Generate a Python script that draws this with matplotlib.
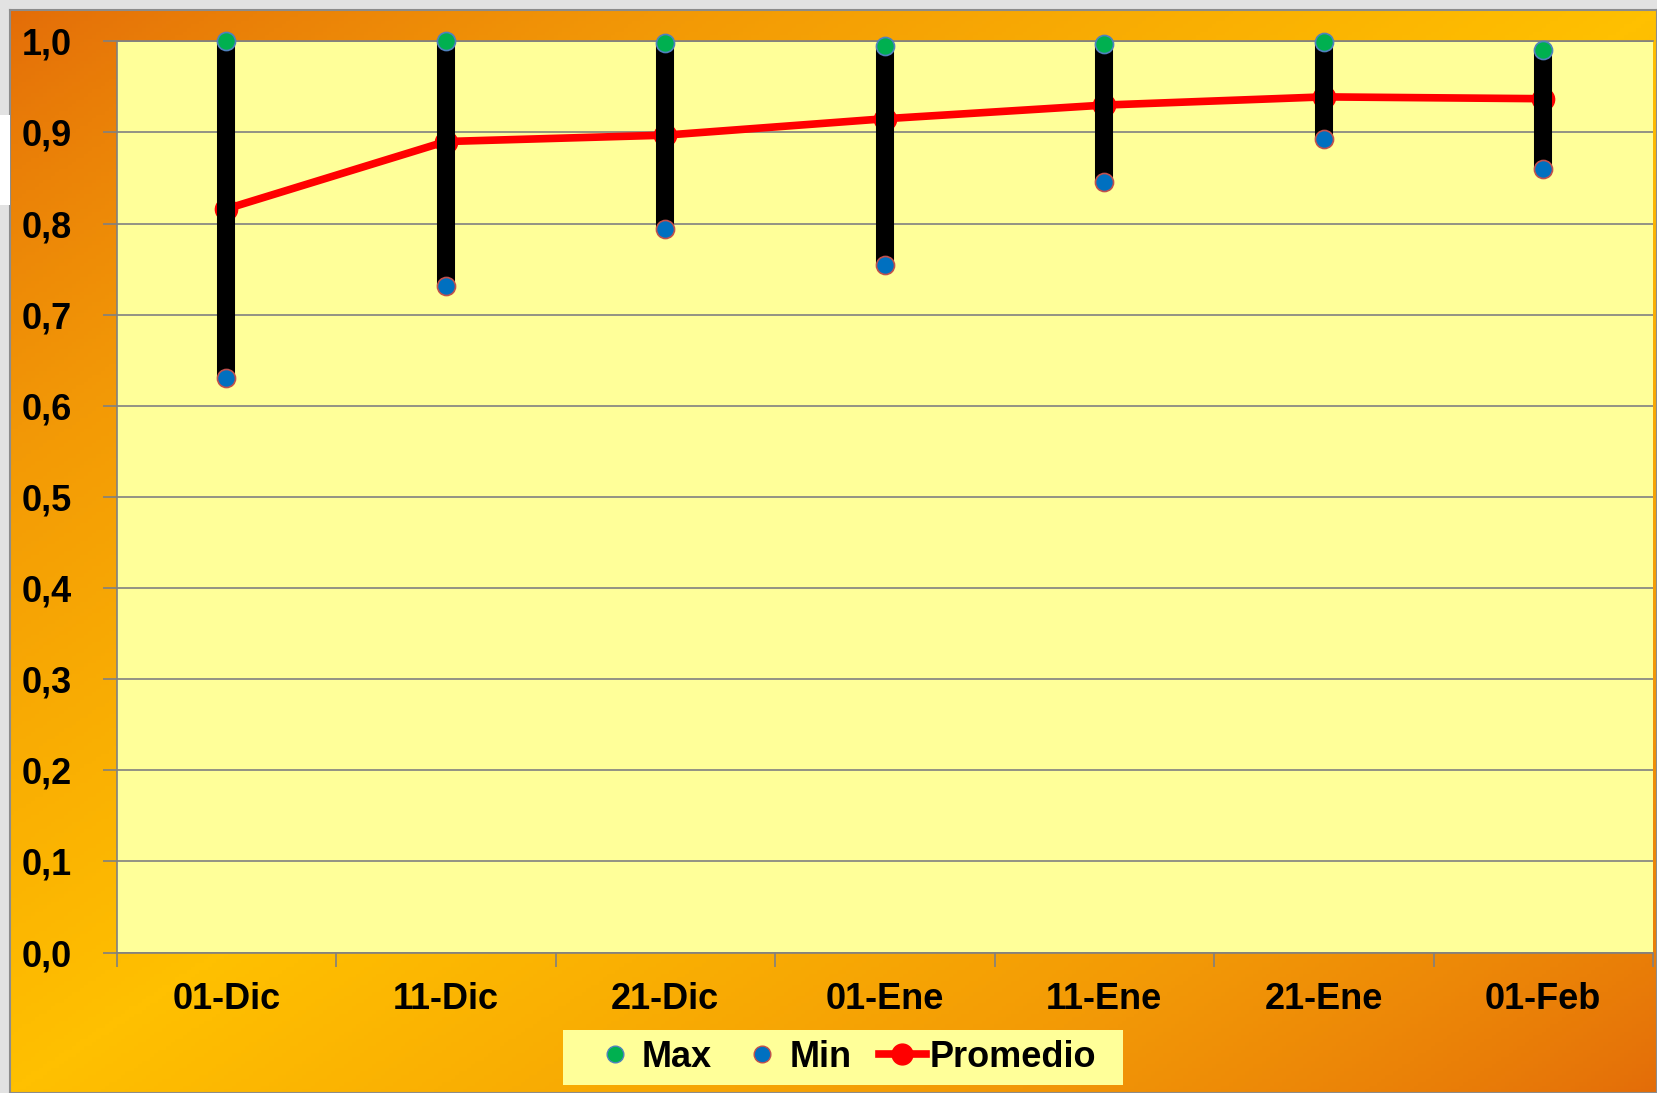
import numpy as np
import matplotlib
matplotlib.use("Agg")
import matplotlib.pyplot as plt
from matplotlib.colors import LinearSegmentedColormap
from matplotlib.lines import Line2D
from matplotlib.patches import Rectangle

# ---- data ----
fechas = ['01-Dic', '11-Dic', '21-Dic', '01-Ene', '11-Ene', '21-Ene', '01-Feb']
maximo = [1.000, 1.000, 0.998, 0.995, 0.997, 0.999, 0.990]
minimo = [0.630, 0.731, 0.794, 0.755, 0.846, 0.893, 0.860]
promedio = [0.816, 0.890, 0.897, 0.915, 0.930, 0.939, 0.937]
y_ticks = [0.0, 0.1, 0.2, 0.3, 0.4, 0.5, 0.6, 0.7, 0.8, 0.9, 1.0]
y_labels = ['0,0', '0,1', '0,2', '0,3', '0,4', '0,5', '0,6', '0,7', '0,8', '0,9', '1,0']

plt.rcParams['font.family'] = ['Liberation Sans', 'DejaVu Sans']
plt.rcParams['font.weight'] = 'bold'

W, H = 1657, 1093
fig = plt.figure(figsize=(W / 100, H / 100), dpi=100, facecolor='#E2E2E2')
# white strip showing on the left edge (behind the slide)
fig.patches.append(Rectangle((0, 1 - 205 / H), 10 / W, 90 / H, transform=fig.transFigure,
                             facecolor='white', edgecolor='none'))

# orange gradient background (dark corners top-left / bottom-right)
bg = fig.add_axes([10 / W, 0, 1 - 10 / W, 1 - 10 / H])
gx, gy = np.meshgrid(np.linspace(0, 1, 400), np.linspace(0, 1, 300))
t = 1 - np.abs((gx + gy) - 1)
cmap = LinearSegmentedColormap.from_list('naranja', ['#E36C09', '#F39A06', '#FFC000'])
bg.imshow(t ** 0.8, cmap=cmap, aspect='auto', extent=[0, 1, 0, 1], origin='upper')
bg.set_xticks([])
bg.set_yticks([])
for s in bg.spines.values():
    s.set_color('#8C8C8C')
    s.set_linewidth(1.5)

# legend background box
fig.patches.append(Rectangle((563 / W, 1 - 1085 / H), 560 / W, 55 / H, transform=fig.transFigure,
                             facecolor='#FFFF99', edgecolor='none', zorder=5))

# plot area
left, right, top, bottom = 116.5, 1653, 41.3, 952.5
ax = fig.add_axes([left / W, 1 - bottom / H, (right - left) / W, (bottom - top) / H])
ax.set_facecolor('#FFFF99')

x = np.arange(len(fechas))
ax.plot(x, promedio, color='#FF0000', lw=5.5, marker='o', ms=16,
        markerfacecolor='#FF0000', markeredgecolor='#FF0000', zorder=2, clip_on=False)
ax.vlines(x, minimo, maximo, color='black', lw=13, zorder=3)
ax.plot(x, maximo, ls='none', marker='o', ms=13, markerfacecolor='#00B050',
        markeredgecolor='#4F81BD', markeredgewidth=1.2, zorder=4, clip_on=False)
ax.plot(x, minimo, ls='none', marker='o', ms=13, markerfacecolor='#0070C0',
        markeredgecolor='#C0504D', markeredgewidth=1.2, zorder=4, clip_on=False)

ax.set_xlim(-0.5, len(fechas) - 0.5)
ax.set_ylim(0, 1)
ax.set_yticks(y_ticks)
ax.set_yticklabels(y_labels, fontsize=26, fontweight='bold')
ax.yaxis.grid(True, color='#808080', lw=1.2)
ax.set_axisbelow(True)

ax.set_xticks(x)
ax.set_xticklabels(fechas, fontsize=26, fontweight='bold')
ax.set_xticks(np.arange(len(fechas) + 1) - 0.5, minor=True)
ax.tick_params(axis='x', which='major', length=0, pad=21)
ax.tick_params(axis='x', which='minor', length=10, color='#808080', width=1.2, direction='out')
ax.tick_params(axis='y', length=10, color='#808080', width=1.2, direction='out', pad=22)

for name in ['left', 'bottom', 'top']:
    ax.spines[name].set_color('#808080')
    ax.spines[name].set_linewidth(1.2)
ax.spines['right'].set_visible(False)

handles = [
    Line2D([], [], ls='none', marker='o', ms=12, markerfacecolor='#00B050', markeredgecolor='#4F81BD'),
    Line2D([], [], ls='none', marker='o', ms=12, markerfacecolor='#0070C0', markeredgecolor='#C0504D'),
    Line2D([], [], color='#FF0000', lw=5.5, marker='o', ms=15, markerfacecolor='#FF0000'),
]
leg = fig.legend(handles, ['Max', 'Min', 'Promedio'], loc='center', bbox_to_anchor=(0.509, 0.0325),
                 ncol=3, frameon=False, prop={'size': 26, 'weight': 'bold'}, handlelength=1.3,
                 handletextpad=0.1, columnspacing=0.75)
leg.set_zorder(6)

fig.savefig('out.png', dpi=100, facecolor=fig.get_facecolor())
